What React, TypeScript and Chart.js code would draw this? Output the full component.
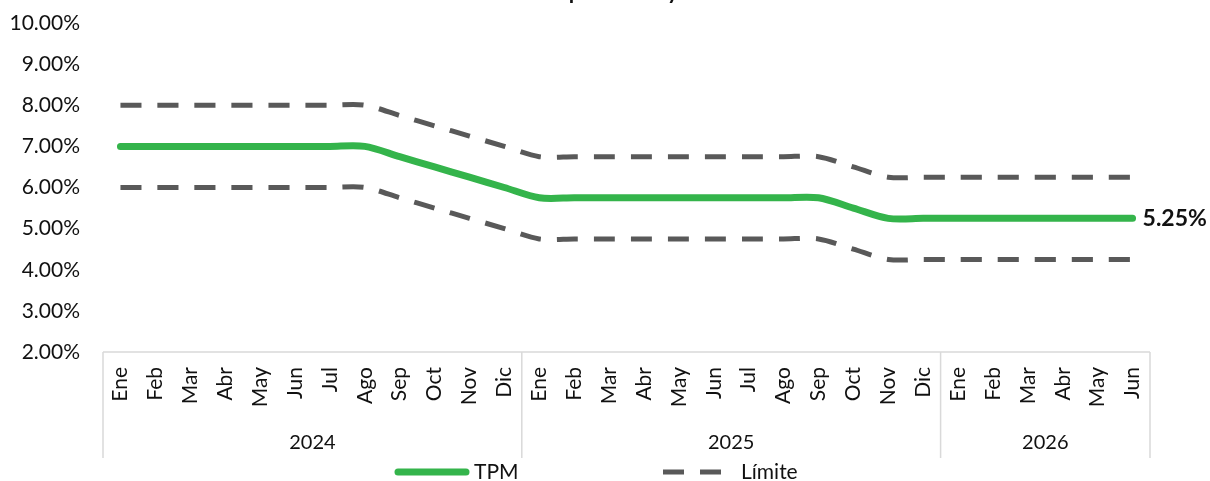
import React, { useEffect, useRef } from 'react';
import { Chart, registerables } from 'chart.js';

Chart.register(...registerables);

const months = [
  'Ene', 'Feb', 'Mar', 'Abr', 'May', 'Jun', 'Jul', 'Ago', 'Sep', 'Oct', 'Nov', 'Dic',
  'Ene', 'Feb', 'Mar', 'Abr', 'May', 'Jun', 'Jul', 'Ago', 'Sep', 'Oct', 'Nov', 'Dic',
  'Ene', 'Feb', 'Mar', 'Abr', 'May', 'Jun',
];
const yearLabels = ['2024', '2025', '2026'];
const yearSpans = [12, 12, 6];

const tpm = [
  7.0, 7.0, 7.0, 7.0, 7.0, 7.0, 7.0, 7.0, 6.75, 6.5, 6.25, 6.0,
  5.75, 5.75, 5.75, 5.75, 5.75, 5.75, 5.75, 5.75, 5.75, 5.5, 5.25, 5.25,
  5.25, 5.25, 5.25, 5.25, 5.25, 5.25,
];
const upperLimit = [
  8.0, 8.0, 8.0, 8.0, 8.0, 8.0, 8.0, 8.0, 7.75, 7.5, 7.25, 7.0,
  6.75, 6.75, 6.75, 6.75, 6.75, 6.75, 6.75, 6.75, 6.75, 6.5, 6.25, 6.25,
  6.25, 6.25, 6.25, 6.25, 6.25, 6.25,
];
const lowerLimit = [
  6.0, 6.0, 6.0, 6.0, 6.0, 6.0, 6.0, 6.0, 5.75, 5.5, 5.25, 5.0,
  4.75, 4.75, 4.75, 4.75, 4.75, 4.75, 4.75, 4.75, 4.75, 4.5, 4.25, 4.25,
  4.25, 4.25, 4.25, 4.25, 4.25, 4.25,
];

const yMin = 2;
const yMax = 10;
const yStep = 1;
const lastValueLabel = '5.25%';
const legendLabels = ['TPM', 'Límite'];
const titleText = 'TPM esperada y límites';

const GREEN = '#34B44B';
const GRAY = '#595959';
const FRAME = '#D9D9D9';
const TEXT = '#111111';
const FONT = 'Lato, "Open Sans", sans-serif';

const overlayPlugin = {
  id: 'overlay',
  afterDraw(chart: any) {
    const { ctx, chartArea, scales } = chart;
    const xs = scales.x;
    ctx.save();

    // category frame
    const top = chartArea.bottom;
    const bottom = top + 106;
    const bounds: number[] = [chartArea.left];
    let idx = 0;
    yearSpans.forEach((n, i) => {
      idx += n;
      if (i < yearSpans.length - 1) {
        bounds.push((xs.getPixelForValue(idx - 1) + xs.getPixelForValue(idx)) / 2);
      }
    });
    bounds.push(chartArea.right);
    ctx.strokeStyle = FRAME;
    ctx.lineWidth = 1.5;
    ctx.beginPath();
    ctx.moveTo(chartArea.left, top);
    ctx.lineTo(chartArea.right, top);
    bounds.forEach((b) => {
      ctx.moveTo(b, top);
      ctx.lineTo(b, bottom);
    });
    ctx.stroke();

    // year labels
    ctx.fillStyle = TEXT;
    ctx.font = `20px ${FONT}`;
    ctx.textAlign = 'center';
    ctx.textBaseline = 'middle';
    yearLabels.forEach((l, i) => {
      ctx.fillText(l, (bounds[i] + bounds[i + 1]) / 2, top + 91);
    });

    // last value label
    const meta = chart.getDatasetMeta(2);
    const pt = meta.data[meta.data.length - 1];
    ctx.font = `bold 23px ${FONT}`;
    ctx.textAlign = 'left';
    ctx.textBaseline = 'middle';
    ctx.fillText(lastValueLabel, pt.x + 10, pt.y);

    // legend
    const ly = 472;
    ctx.lineCap = 'round';
    ctx.strokeStyle = GREEN;
    ctx.lineWidth = 7;
    ctx.beginPath();
    ctx.moveTo(398, ly);
    ctx.lineTo(466, ly);
    ctx.stroke();
    ctx.lineCap = 'butt';
    ctx.strokeStyle = GRAY;
    ctx.lineWidth = 5;
    ctx.setLineDash([21, 16]);
    ctx.beginPath();
    ctx.moveTo(663, ly);
    ctx.lineTo(722, ly);
    ctx.stroke();
    ctx.setLineDash([]);
    ctx.font = `21px ${FONT}`;
    ctx.fillStyle = TEXT;
    ctx.textBaseline = 'middle';
    ctx.fillText(legendLabels[0], 474, ly);
    ctx.fillText(legendLabels[1], 741, ly);

    // title (mostly above the visible area, only descenders show)
    ctx.textBaseline = 'alphabetic';
    ctx.textAlign = 'left';
    ctx.font = `20px ${FONT}`;
    const span20 = ctx.measureText('perada ').width;
    const size = Math.max(14, Math.min(30, (20 * 102) / span20));
    ctx.font = `${size}px ${FONT}`;
    const x0 = 568 - ctx.measureText('TPM es').width;
    ctx.fillText(titleText, x0, -2);

    ctx.restore();
  },
};

export default function App() {
  const canvasRef = useRef<HTMLCanvasElement | null>(null);

  useEffect(() => {
    document.body.style.margin = '0';
    const canvas = canvasRef.current;
    if (!canvas) return;
    const chart = new Chart(canvas, {
      type: 'line',
      data: {
        labels: months,
        datasets: [
          {
            label: 'Límite superior',
            data: upperLimit,
            borderColor: GRAY,
            borderWidth: 5,
            borderDash: [21, 16],
            pointRadius: 0,
            tension: 0.3,
            fill: false,
          },
          {
            label: 'Límite inferior',
            data: lowerLimit,
            borderColor: GRAY,
            borderWidth: 5,
            borderDash: [21, 16],
            pointRadius: 0,
            tension: 0.3,
            fill: false,
          },
          {
            label: 'TPM',
            data: tpm,
            borderColor: GREEN,
            borderWidth: 7,
            borderCapStyle: 'round',
            pointRadius: 0,
            tension: 0.3,
            fill: false,
          },
        ],
      },
      options: {
        animation: false,
        responsive: true,
        maintainAspectRatio: false,
        layout: { padding: { top: 23, right: 60, left: 0, bottom: 0 } },
        plugins: {
          legend: { display: false },
          title: { display: false },
          tooltip: { enabled: false },
        },
        scales: {
          x: {
            offset: true,
            grid: { display: false, drawTicks: false },
            border: { display: false },
            ticks: {
              autoSkip: false,
              maxRotation: 90,
              minRotation: 90,
              padding: 15,
              color: TEXT,
              font: { family: FONT, size: 21 },
            },
            afterFit: (scale: any) => {
              scale.height = 129;
            },
          },
          y: {
            min: yMin,
            max: yMax,
            grid: { display: false, drawTicks: false },
            border: { display: false },
            ticks: {
              stepSize: yStep,
              padding: 23,
              color: TEXT,
              font: { family: FONT, size: 21 },
              callback: (v: any) => Number(v).toFixed(2) + '%',
            },
            afterFit: (scale: any) => {
              scale.width = 103;
              scale.paddingTop = 0;
              scale.paddingBottom = 0;
            },
          },
        },
      },
      plugins: [overlayPlugin],
    });
    return () => chart.destroy();
  }, []);

  return (
    <div style={{ position: 'relative', width: 1210, height: 481 }}>
      <canvas ref={canvasRef} />
    </div>
  );
}
